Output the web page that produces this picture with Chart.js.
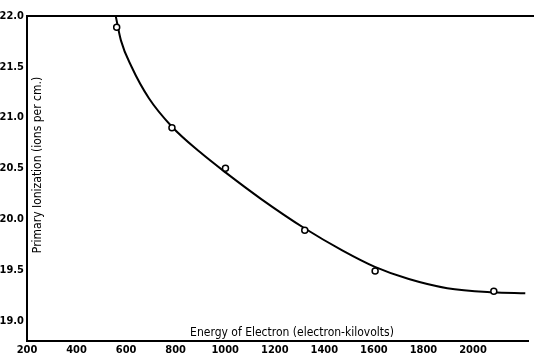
<!DOCTYPE html>
<html>
<head>
<meta charset="utf-8">
<script src="https://cdn.jsdelivr.net/npm/chart.js@4"></script>
<style>
  html, body { margin: 0; padding: 0; background: #fff; }
  #wrap { width: 534px; height: 357px; position: relative; }
</style>
</head>
<body>
<div id="wrap"><canvas id="chart"></canvas></div>
<script>
// measured points (energy in kV, ions per cm)
var energy = [562, 785, 1001, 1321, 1605, 2084];
var ionization = [21.89, 20.90, 20.50, 19.89, 19.49, 19.29];

// drawn smooth curve
var curveEnergy = [558, 579, 622, 692, 785, 898, 1001, 1144, 1320, 1474, 1604, 1741, 1896, 2080, 2211];
var curveIon = [22.0, 21.76, 21.50, 21.19, 20.91, 20.66, 20.46, 20.20, 19.91, 19.69, 19.53, 19.41, 19.32, 19.28, 19.27];

var xTicks = [200, 400, 600, 800, 1000, 1200, 1400, 1600, 1800, 2000];
var yTicks = [19.0, 19.5, 20.0, 20.5, 21.0, 21.5, 22.0];

var xTitle = 'Energy of Electron (electron-kilovolts)';
var yTitle = 'Primary Ionization (ions per cm.)';

var font = "'Liberation Sans Narrow', 'DejaVu Sans Condensed', sans-serif";

function pairs(xs, ys) {
	return xs.map(function (x, i) { return { x: x, y: ys[i] }; });
}

// titles sit inside the plot, plus the top frame line
var extras = {
	id: 'extras',
	afterDraw: function (chart) {
		var ctx = chart.ctx, a = chart.chartArea;
		ctx.save();
		ctx.strokeStyle = '#000';
		ctx.lineWidth = 2;
		ctx.beginPath();
		ctx.moveTo(a.left, a.top);
		ctx.lineTo(chart.width, a.top);
		ctx.stroke();

		ctx.fillStyle = '#000';
		ctx.font = '12px ' + font;
		ctx.textAlign = 'center';
		ctx.textBaseline = 'middle';
		ctx.fillText(xTitle, 292, 333);

		ctx.translate(38, 165);
		ctx.rotate(-Math.PI / 2);
		ctx.fillText(yTitle, 0, 0);
		ctx.restore();
	}
};

var ctx = document.getElementById('chart').getContext('2d');

new Chart(ctx, {
	type: 'scatter',
	data: {
		datasets: [
			{
				label: 'points',
				data: pairs(energy, ionization),
				showLine: false,
				pointRadius: 3,
				pointBackgroundColor: '#fff',
				pointBorderColor: '#000',
				pointBorderWidth: 1.5
			},
			{
				label: 'curve',
				data: pairs(curveEnergy, curveIon),
				showLine: true,
				borderColor: '#000',
				borderWidth: 2,
				pointRadius: 0,
				cubicInterpolationMode: 'monotone'
			}
		]
	},
	plugins: [extras],
	options: {
		responsive: true,
		maintainAspectRatio: false,
		animation: false,
		layout: { padding: { top: 16, right: 0, left: 0, bottom: 0 } },
		plugins: {
			legend: { display: false },
			tooltip: { enabled: false }
		},
		scales: {
			x: {
				type: 'linear',
				min: 200,
				max: 2224,
				afterBuildTicks: function (s) { s.ticks = xTicks.map(function (v) { return { value: v }; }); },
				afterFit: function (s) { s.height = 16; },
				grid: { display: false, drawTicks: false },
				border: { display: true, color: '#000', width: 2 },
				ticks: {
					color: '#000',
					padding: 3,
					maxRotation: 0,
					autoSkip: false,
					font: { family: font, size: 11, weight: 'bold' },
					callback: function (v) { return String(v); }
				}
			},
			y: {
				type: 'linear',
				min: 18.8,
				max: 22.0,
				afterBuildTicks: function (s) { s.ticks = yTicks.map(function (v) { return { value: v }; }); },
				afterFit: function (s) { s.width = 27; },
				grid: { display: false, drawTicks: false },
				border: { display: true, color: '#000', width: 2 },
				ticks: {
					color: '#000',
					padding: 3,
					autoSkip: false,
					font: { family: font, size: 11, weight: 'bold' },
					callback: function (v) { return v.toFixed(1); }
				}
			}
		}
	}
});
</script>
</body>
</html>
